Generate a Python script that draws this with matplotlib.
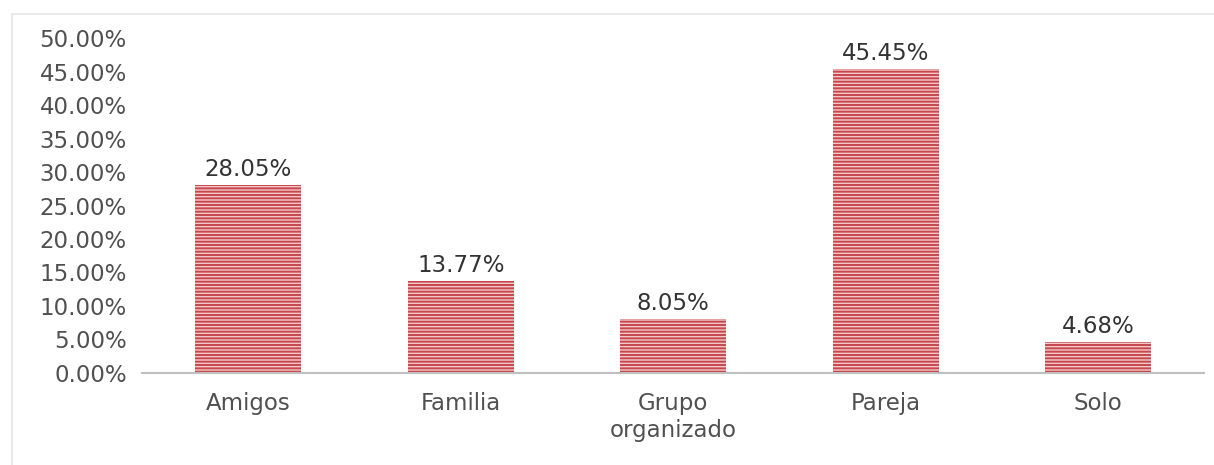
import matplotlib.pyplot as plt
from matplotlib.patches import Rectangle

categories = ["Amigos", "Familia", "Grupo\norganizado", "Pareja", "Solo"]
values = [28.05, 13.77, 8.05, 45.45, 4.68]
yticks = [0, 5, 10, 15, 20, 25, 30, 35, 40, 45, 50]

plt.rcParams['font.family'] = ['DejaVu Sans']
plt.rcParams['hatch.linewidth'] = 1.4

fig = plt.figure(figsize=(12.14, 4.65), dpi=100)
ax = fig.add_axes([0.117, 0.198, 0.875, 0.72])

# frame around the whole chart
fig.patches.append(Rectangle((12 / 1214, -0.05), 1.2, 1 - 14 / 465 + 0.05,
                             transform=fig.transFigure, fill=False,
                             edgecolor='#e6e6e6', linewidth=1.2))

x = range(len(categories))
bars = ax.bar(x, values, width=0.5, color='#f3c8c8', edgecolor='#c8464e',
              hatch='-----', linewidth=0)

for b, v in zip(bars, values):
    ax.text(b.get_x() + b.get_width() / 2, v + 0.6, f"{v:.2f}%",
            ha='center', va='bottom', fontsize=16.5, color='#333333')

ax.set_xlim(-0.5, 4.5)
ax.set_ylim(0, 50)
ax.set_yticks(yticks)
ax.set_yticklabels([f"{t:.2f}%" for t in yticks], fontsize=16.5, color='#505050')
ax.set_xticks(list(x))
ax.set_xticklabels(categories, fontsize=16.5, color='#505050')
ax.tick_params(axis='both', length=0)
ax.tick_params(axis='x', pad=14)
ax.tick_params(axis='y', pad=11)

for s in ['top', 'right', 'left']:
    ax.spines[s].set_visible(False)
ax.spines['bottom'].set_color('#bfbfbf')
ax.spines['bottom'].set_linewidth(1.5)

fig.savefig("out.png", dpi=100)
